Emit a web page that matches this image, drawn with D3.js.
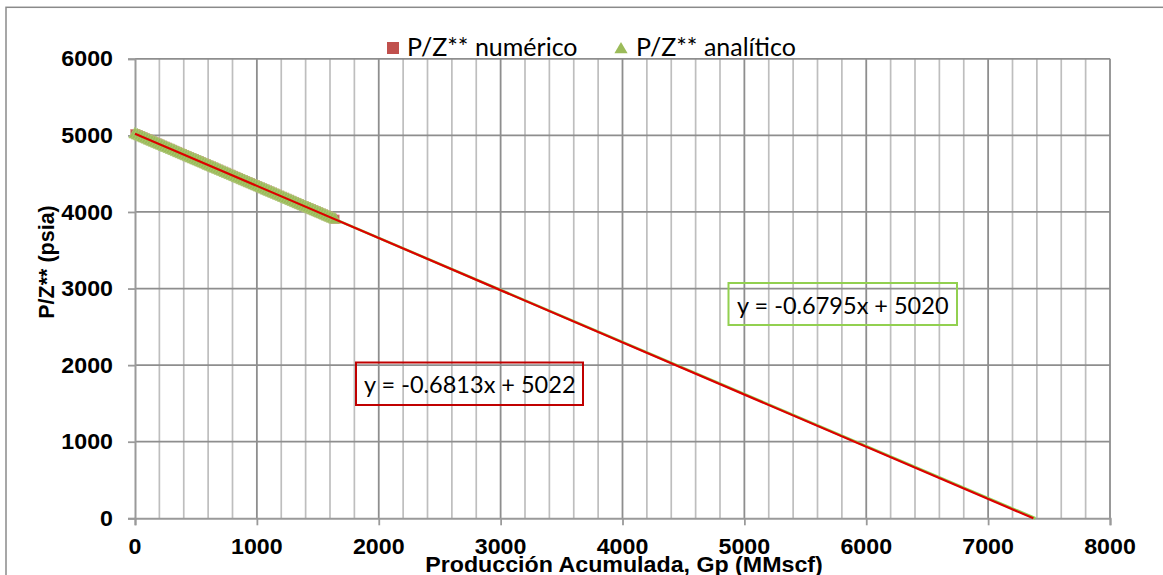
<!DOCTYPE html>
<html>
<head>
<meta charset="utf-8">
<script src="https://cdn.jsdelivr.net/npm/d3@7"></script>
<style>
  html, body { margin: 0; padding: 0; background: #fff; }
  svg { display: block; }
</style>
</head>
<body>
<svg id="chart" width="1163" height="575"></svg>
<script>
// ---------------- DATA ----------------
const seriesNames = ["P/Z** numérico", "P/Z** analítico"];
const gp = [0, 20, 40, 60, 80, 100, 120, 140, 160, 180, 200, 220, 240, 260, 280, 300, 320, 340, 360, 380,
            400, 420, 440, 460, 480, 500, 520, 540, 560, 580, 600, 620, 640, 660, 680, 700, 720, 740, 760, 780,
            800, 820, 840, 860, 880, 900, 920, 940, 960, 980, 1000, 1020, 1040, 1060, 1080, 1100, 1120, 1140, 1160, 1180,
            1200, 1220, 1240, 1260, 1280, 1300, 1320, 1340, 1360, 1380, 1400, 1420, 1440, 1460, 1480, 1500, 1520, 1540, 1560, 1580,
            1600, 1620, 1640];
const pzNumerico = [5022, 5008, 4995, 4981, 4967, 4954, 4940, 4927, 4913, 4899, 4886, 4872, 4858, 4845, 4831, 4818, 4804, 4790, 4777, 4763,
                    4749, 4736, 4722, 4709, 4695, 4681, 4668, 4654, 4640, 4627, 4613, 4600, 4586, 4572, 4559, 4545, 4531, 4518, 4504, 4491,
                    4477, 4463, 4450, 4436, 4422, 4409, 4395, 4382, 4368, 4354, 4341, 4327, 4313, 4300, 4286, 4273, 4259, 4245, 4232, 4218,
                    4204, 4191, 4177, 4164, 4150, 4136, 4123, 4109, 4095, 4082, 4068, 4055, 4041, 4027, 4014, 4000, 3986, 3973, 3959, 3946,
                    3932, 3918, 3905];
const pzAnalitico = [5020, 5006, 4993, 4979, 4966, 4952, 4938, 4925, 4911, 4898, 4884, 4871, 4857, 4843, 4830, 4816, 4803, 4789, 4775, 4762,
                     4748, 4735, 4721, 4707, 4694, 4680, 4667, 4653, 4640, 4626, 4612, 4599, 4585, 4572, 4558, 4544, 4531, 4517, 4504, 4490,
                     4476, 4463, 4449, 4436, 4422, 4408, 4395, 4381, 4368, 4354, 4341, 4327, 4313, 4300, 4286, 4272, 4259, 4245, 4232, 4218,
                     4205, 4191, 4177, 4164, 4150, 4137, 4123, 4109, 4096, 4082, 4069, 4055, 4042, 4028, 4014, 4001, 3987, 3974, 3960, 3946,
                     3933, 3919, 3906];
const trendSlopes = [-0.6813, -0.6795];
const trendIntercepts = [5022, 5020];
const trendLabels = ["y = -0.6813x + 5022", "y = -0.6795x + 5020"];
const xTicks = [0, 1000, 2000, 3000, 4000, 5000, 6000, 7000, 8000];
const yTicks = [0, 1000, 2000, 3000, 4000, 5000, 6000];
const xTitle = "Producción Acumulada, Gp (MMscf)";
const yTitle = "P/Z** (psia)";

// ---------------- LAYOUT ----------------
const svg = d3.select("#chart");
const W = 1163, H = 575;
const x = d3.scaleLinear().domain([0, 8000]).range([135, 1110]);
const y = d3.scaleLinear().domain([0, 6000]).range([518.3, 58.8]);

const redMarker = "#C0504D", greenMarker = "#9BBB59";
const redLine = "#DD0000", greenLine = "#92D050";
const axisFont = "'Liberation Sans', Arial, sans-serif";
const bodyFont = "Lato, 'Open Sans', sans-serif";

svg.append("rect").attr("x", 0).attr("y", 0).attr("width", W).attr("height", H).attr("fill", "#fff");

// outer chart border
svg.append("rect").attr("x", 6).attr("y", 7.3).attr("width", W + 20).attr("height", H + 40)
  .attr("fill", "none").attr("stroke", "#8a8a8a").attr("stroke-width", 1.5);

// minor vertical gridlines
const minor = d3.range(0, 8001, 200).filter(v => v % 1000 !== 0);
svg.append("g").selectAll("line").data(minor).join("line")
  .attr("x1", d => x(d)).attr("x2", d => x(d))
  .attr("y1", y(6000)).attr("y2", y(0))
  .attr("stroke", "#bebebe").attr("stroke-width", 1.7);

// major vertical gridlines
svg.append("g").selectAll("line").data(xTicks.filter(d => d > 0)).join("line")
  .attr("x1", d => x(d)).attr("x2", d => x(d))
  .attr("y1", y(6000)).attr("y2", y(0))
  .attr("stroke", "#8e8e8e").attr("stroke-width", 1.8);

// horizontal gridlines
svg.append("g").selectAll("line").data(yTicks.filter(d => d > 0)).join("line")
  .attr("x1", x(0)).attr("x2", x(8000))
  .attr("y1", d => y(d)).attr("y2", d => y(d))
  .attr("stroke", "#8e8e8e").attr("stroke-width", 1.8);

// axes
const gx = svg.append("g").attr("transform", `translate(0,${y(0)})`)
  .call(d3.axisBottom(x).tickValues(xTicks).tickSize(7).tickFormat(""));
const gy = svg.append("g").attr("transform", `translate(${x(0)},0)`)
  .call(d3.axisLeft(y).tickValues(yTicks).tickSize(7).tickFormat(""));
[gx, gy].forEach(g => {
  g.select(".domain").attr("stroke", "#9a9a9a").attr("stroke-width", 2);
  g.selectAll(".tick line").attr("stroke", "#9a9a9a").attr("stroke-width", 1.8);
});

// tick labels
svg.append("g").selectAll("text").data(xTicks).join("text")
  .attr("transform", d => `translate(${x(d)},554) scale(1.08,1)`)
  .attr("text-anchor", "middle")
  .attr("font-family", axisFont).attr("font-weight", "bold").attr("font-size", 21.5)
  .attr("fill", "#000").text(d => d);
svg.append("g").selectAll("text").data(yTicks).join("text")
  .attr("transform", d => `translate(113,${y(d) + 7.6}) scale(1.08,1)`)
  .attr("text-anchor", "end")
  .attr("font-family", axisFont).attr("font-weight", "bold").attr("font-size", 21.5)
  .attr("fill", "#000").text(d => d);

// axis titles
svg.append("text")
  .attr("transform", `translate(624,572) scale(1.08,1)`)
  .attr("text-anchor", "middle")
  .attr("font-family", axisFont).attr("font-weight", "bold").attr("font-size", 21.5)
  .attr("fill", "#000").text(xTitle);
svg.append("text")
  .attr("transform", `translate(54,262) rotate(-90)`)
  .attr("text-anchor", "middle")
  .attr("font-family", axisFont).attr("font-weight", "bold").attr("font-size", 21.5)
  .attr("fill", "#000").text(yTitle);

// markers: squares (numérico)
const sq = 8.5;
svg.append("g").selectAll("rect").data(gp.map((g, i) => [g, pzNumerico[i]])).join("rect")
  .attr("x", d => x(d[0]) - sq / 2).attr("y", d => y(d[1]) - sq / 2)
  .attr("width", sq).attr("height", sq)
  .attr("fill", redMarker).attr("stroke", "#D98A88").attr("stroke-width", 0.8);

// markers: triangles (analítico)
const tri = d3.symbol().type(d3.symbolTriangle).size(66);
svg.append("g").selectAll("path").data(gp.map((g, i) => [g, pzAnalitico[i]])).join("path")
  .attr("transform", d => `translate(${x(d[0])},${y(d[1]) + 0.5})`)
  .attr("d", tri)
  .attr("fill", greenMarker).attr("stroke", "#A9C873").attr("stroke-width", 0.8);

// trendlines (green under red)
const line = d3.line().x(d => x(d[0])).y(d => y(d[1]));
[1, 0].forEach(i => {
  const xEnd = -trendIntercepts[i] / trendSlopes[i];
  const pts = [[0, trendIntercepts[i]], [xEnd, trendIntercepts[i] + trendSlopes[i] * xEnd]];
  svg.append("path").attr("d", line(pts))
    .attr("fill", "none")
    .attr("stroke", i === 0 ? redLine : greenLine)
    .attr("stroke-width", i === 0 ? 2.2 : 2.6);
});

// equation boxes
const eqBoxes = [
  { label: trendLabels[0], color: "#C00000", bx: 356, by: 362.5, bw: 227, bh: 42.5, tx: 364, ty: 393 },
  { label: trendLabels[1], color: greenLine, bx: 728.5, by: 283, bw: 228.5, bh: 42, tx: 737, ty: 313.5 }
];
eqBoxes.forEach(b => {
  svg.append("rect").attr("x", b.bx).attr("y", b.by).attr("width", b.bw).attr("height", b.bh)
    .attr("fill", "none").attr("stroke", b.color).attr("stroke-width", 2);
  svg.append("text").attr("x", b.tx).attr("y", b.ty)
    .attr("font-family", bodyFont).attr("font-size", 23.5).attr("fill", "#000")
    .text(b.label);
});

// legend
const lg = svg.append("g");
lg.append("rect").attr("x", 387).attr("y", 42).attr("width", 12).attr("height", 12).attr("fill", redMarker);
lg.append("text").attr("x", 407).attr("y", 55.5)
  .attr("font-family", bodyFont).attr("font-size", 25).attr("fill", "#000").text(seriesNames[0]);
lg.append("path").attr("transform", "translate(621,49.5)")
  .attr("d", d3.symbol().type(d3.symbolTriangle).size(75)).attr("fill", greenMarker);
lg.append("text").attr("x", 636).attr("y", 55.5)
  .attr("font-family", bodyFont).attr("font-size", 25).attr("fill", "#000").text(seriesNames[1]);
</script>
</body>
</html>
